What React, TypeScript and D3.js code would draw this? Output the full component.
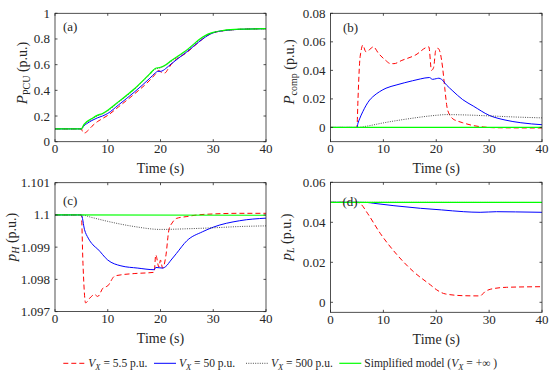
import React from 'react';
import * as d3 from 'd3';

type Pt = [number, number];

// shared time axis
const timeTicks = [0, 10, 20, 30, 40];

// (a) P_PCU
const aRed: Pt[] = [[0, 0.1], [5, 0.1], [5.2, 0.08], [5.6, 0.068], [6.2, 0.085], [7, 0.12], [8, 0.155], [9, 0.18], [10, 0.205], [12, 0.27], [15, 0.37], [18, 0.48], [19, 0.525], [19.6, 0.555], [20.2, 0.54], [20.8, 0.535], [21.5, 0.57], [22, 0.6], [25, 0.695], [28, 0.8], [29, 0.83], [30, 0.848], [32, 0.865], [35, 0.875], [40, 0.88]];
const aBlue: Pt[] = [[0, 0.1], [5, 0.1], [5.5, 0.125], [6, 0.14], [7, 0.165], [8, 0.185], [9, 0.2], [10, 0.22], [12, 0.285], [15, 0.385], [18, 0.495], [19, 0.535], [19.5, 0.548], [20, 0.548], [20.5, 0.555], [21, 0.57], [22, 0.605], [25, 0.7], [28, 0.8], [29, 0.828], [30, 0.848], [32, 0.865], [35, 0.875], [40, 0.88]];
const aBlack: Pt[] = [[0, 0.1], [5, 0.1], [5.5, 0.13], [7, 0.175], [8, 0.2], [9, 0.215], [10, 0.24], [12, 0.305], [15, 0.405], [18, 0.525], [19, 0.565], [20, 0.575], [21, 0.595], [22, 0.625], [25, 0.71], [28, 0.81], [29, 0.835], [30, 0.85], [32, 0.865], [35, 0.875], [40, 0.88]];
const aGreen: Pt[] = [[0, 0.1], [5, 0.1], [5.5, 0.135], [7, 0.18], [8, 0.205], [9, 0.22], [10, 0.245], [12, 0.31], [15, 0.41], [18, 0.53], [19, 0.57], [20, 0.58], [21, 0.6], [22, 0.63], [25, 0.715], [28, 0.815], [29, 0.838], [30, 0.852], [32, 0.867], [35, 0.876], [40, 0.88]];
const aYTicks = [0, 0.2, 0.4, 0.6, 0.8, 1];
const aYLabels = ['0', '0.2', '0.4', '0.6', '0.8', '1'];

// (b) P_comp
const bRed: Pt[] = [[0, 0], [5, 0], [5.2, 0.02], [5.5, 0.045], [5.8, 0.054], [6.1, 0.0577], [6.7, 0.053], [7.4, 0.0546], [8.1, 0.0565], [9.1, 0.0518], [10.4, 0.0471], [11.3, 0.0448], [12, 0.0447], [13.5, 0.047], [16, 0.0506], [18.6, 0.0565], [19.1, 0.04], [19.5, 0.042], [19.9, 0.054], [20.3, 0.0555], [20.7, 0.053], [21.2, 0.042], [21.6, 0.028], [22, 0.015], [22.5, 0.009], [23, 0.0065], [24, 0.0045], [25, 0.0033], [27, 0.0013], [29, 0.0003], [31, -0.0002], [40, -0.0004]];
const bBlue: Pt[] = [[0, 0], [5, 0], [5.2, 0.003], [5.5, 0.006], [6.1, 0.011], [7.4, 0.0192], [8, 0.0215], [9.3, 0.0251], [10.5, 0.0275], [12.4, 0.0297], [15.5, 0.0327], [17, 0.034], [18.7, 0.035], [19.3, 0.0337], [20, 0.0342], [20.5, 0.0345], [21, 0.0337], [22, 0.0295], [23, 0.026], [25, 0.0195], [27, 0.015], [30, 0.0085], [33, 0.0052], [36, 0.0033], [40, 0.0019]];
const bBlack: Pt[] = [[0, 0], [5, 0], [7, 0.001], [10, 0.0032], [15, 0.0062], [20, 0.0085], [22, 0.009], [25, 0.0088], [30, 0.0081], [35, 0.0073], [40, 0.0067]];
const bGreen: Pt[] = [[0, 0], [40, 0]];
const bYTicks = [0, 0.02, 0.04, 0.06, 0.08];
const bYLabels = ['0', '0.02', '0.04', '0.06', '0.08'];

// (c) p_H
const cRed: Pt[] = [[0, 1.1], [5, 1.1], [5.3, 1.0985], [5.8, 1.09727], [6.6, 1.09742], [7.5, 1.09753], [8.1, 1.09747], [9.1, 1.09773], [10, 1.0978], [11.3, 1.0981], [12.5, 1.09814], [15, 1.09818], [18.8, 1.09822], [19.1, 1.09876], [19.7, 1.09838], [20, 1.0986], [20.4, 1.09835], [21, 1.09871], [21.6, 1.09954], [22.2, 1.09975], [23, 1.09989], [25, 1.09995], [27, 1.1], [30, 1.10003], [35, 1.10005], [40, 1.10005]];
const cBlue: Pt[] = [[0, 1.1], [5, 1.1], [5.6, 1.09954], [6.3, 1.09928], [7.2, 1.09907], [8.1, 1.09894], [10, 1.0986], [12.5, 1.09842], [15.7, 1.09835], [18.8, 1.0983], [19.1, 1.09837], [20.4, 1.09835], [21, 1.0984], [22, 1.0986], [23, 1.0988], [25, 1.0992], [28, 1.09948], [30, 1.09962], [35, 1.09982], [40, 1.0999]];
const cBlack: Pt[] = [[0, 1.1], [5, 1.1], [7, 1.09992], [10, 1.0998], [15, 1.09964], [20, 1.09955], [25, 1.09957], [30, 1.0996], [35, 1.09964], [40, 1.09966]];
const cGreen: Pt[] = [[0, 1.1], [40, 1.09999]];
const cYTicks = [1.097, 1.098, 1.099, 1.1, 1.101];
const cYLabels = ['1.097', '1.098', '1.099', '1.1', '1.101'];

// (d) p_L
const dRed: Pt[] = [[0, 0.05], [5, 0.05], [5.7, 0.0492], [7, 0.0445], [9.4, 0.0345], [12.6, 0.0237], [15.7, 0.0153], [18.9, 0.0087], [20.1, 0.0062], [21.7, 0.0042], [25.2, 0.0033], [28.3, 0.0032], [29.2, 0.0053], [30.2, 0.0065], [33.3, 0.0075], [40, 0.0078]];
const dBlue: Pt[] = [[0, 0.05], [5, 0.05], [7, 0.0499], [8.2, 0.0495], [12, 0.0483], [17, 0.047], [21, 0.0462], [25.2, 0.0453], [28.3, 0.045], [31.4, 0.0453], [35, 0.0452], [40, 0.045]];
const dBlack: Pt[] = [[0, 0.05], [40, 0.0499]];
const dGreen: Pt[] = [[0, 0.05], [40, 0.05]];
const dYTicks = [0, 0.02, 0.04, 0.06];
const dYLabels = ['0', '0.02', '0.04', '0.06'];

const legendValues = ['5.5', '50', '500'];

const styles = [
  { color: '#ff0000', dash: '5,3', width: 1 },
  { color: '#0000ff', dash: undefined, width: 1 },
  { color: '#222222', dash: '1,1.3', width: 0.8 },
  { color: '#00ff00', dash: undefined, width: 1.2 },
];

const FONT = 'Liberation Serif, DejaVu Serif, serif';
const AX = '#262626';
const TXT = '#262626';

type Panel = {
  id: string;
  left: number; right: number; top: number; bottom: number;
  yDomain: [number, number];
  yTicks: number[]; yLabels: string[];
  series: Pt[][];
  tag: string; tagX: number; tagY: number;
  labelX: number; labelY: number;
  ylab: { main: string; sub: string; subItalic: boolean };
};

const panels: Panel[] = [
  { id: 'a', left: 55, right: 266, top: 13.3, bottom: 141.7, yDomain: [0, 1], yTicks: aYTicks, yLabels: aYLabels,
    series: [aRed, aBlue, aBlack, aGreen], tag: '(a)', tagX: 63, tagY: 30.5, labelX: 27, labelY: 73,
    ylab: { main: 'P', sub: 'PCU', subItalic: false } },
  { id: 'b', left: 330.5, right: 542, top: 13.3, bottom: 141.7, yDomain: [-0.01, 0.08], yTicks: bYTicks, yLabels: bYLabels,
    series: [bRed, bBlue, bBlack, bGreen], tag: '(b)', tagX: 343, tagY: 31.5, labelX: 294, labelY: 72,
    ylab: { main: 'P', sub: 'comp', subItalic: false } },
  { id: 'c', left: 55, right: 266, top: 182.7, bottom: 311.6, yDomain: [1.097, 1.101], yTicks: cYTicks, yLabels: cYLabels,
    series: [cRed, cBlue, cBlack, cGreen], tag: '(c)', tagX: 63, tagY: 204.5, labelX: 16, labelY: 237,
    ylab: { main: 'p', sub: 'H', subItalic: true } },
  { id: 'd', left: 330.5, right: 542, top: 182.3, bottom: 312.3, yDomain: [-0.005, 0.06], yTicks: dYTicks, yLabels: dYLabels,
    series: [dRed, dBlue, dBlack, dGreen], tag: '(d)', tagX: 342.5, tagY: 205.5, labelX: 291, labelY: 237,
    ylab: { main: 'p', sub: 'L', subItalic: true } },
];

const PanelView: React.FC<{ p: Panel }> = ({ p }) => {
  const x = d3.scaleLinear().domain([0, 40]).range([p.left, p.right]);
  const y = d3.scaleLinear().domain(p.yDomain).range([p.bottom, p.top]);
  const line = d3.line<Pt>().x(d => x(d[0])).y(d => y(d[1])).curve(d3.curveMonotoneX);
  const tl = 2.5;
  return (
    <g>
      <defs>
        <clipPath id={`clip-${p.id}`}>
          <rect x={p.left} y={p.top} width={p.right - p.left} height={p.bottom - p.top} />
        </clipPath>
      </defs>
      <rect x={p.left} y={p.top} width={p.right - p.left} height={p.bottom - p.top} fill="#fff" />
      <g clipPath={`url(#clip-${p.id})`}>
        {p.series.map((s, i) => (
          <path key={i} d={line(s) || ''} fill="none" stroke={styles[i].color}
            strokeWidth={styles[i].width} strokeDasharray={styles[i].dash} />
        ))}
      </g>
      {/* box + inward ticks */}
      <rect x={p.left} y={p.top} width={p.right - p.left} height={p.bottom - p.top} fill="none" stroke={AX} strokeWidth={0.8} />
      {timeTicks.map(t => (
        <g key={t}>
          <line x1={x(t)} x2={x(t)} y1={p.bottom} y2={p.bottom - tl} stroke={AX} strokeWidth={0.8} />
          <line x1={x(t)} x2={x(t)} y1={p.top} y2={p.top + tl} stroke={AX} strokeWidth={0.8} />
          <text x={x(t)} y={p.bottom + 11.5} textAnchor="middle" fontFamily={FONT} fontSize={13} fill={TXT}>{t}</text>
        </g>
      ))}
      {p.yTicks.map((t, i) => (
        <g key={i}>
          <line x1={p.left} x2={p.left + tl} y1={y(t)} y2={y(t)} stroke={AX} strokeWidth={0.8} />
          <line x1={p.right} x2={p.right - tl} y1={y(t)} y2={y(t)} stroke={AX} strokeWidth={0.8} />
          <text x={p.left - 5} y={y(t) + 4.5} textAnchor="end" fontFamily={FONT} fontSize={13} fill={TXT}>{p.yLabels[i]}</text>
        </g>
      ))}
      <text x={(p.left + p.right) / 2} y={p.bottom + 31.5} textAnchor="middle" fontFamily={FONT} fontSize={14} fill={TXT}>Time (s)</text>
      <text transform={`translate(${p.labelX},${p.labelY}) rotate(-90)`} textAnchor="middle" fontFamily={FONT} fontSize={14} fill={TXT}>
        <tspan fontStyle="italic" fontSize={15}>{p.ylab.main}</tspan>
        <tspan fontSize={10} dy={3} fontStyle={p.ylab.subItalic ? 'italic' : 'normal'}>{p.ylab.sub}</tspan>
        <tspan dy={-3}>{' (p.u.)'}</tspan>
      </text>
      <text x={p.tagX} y={p.tagY} fontFamily={FONT} fontSize={13} fill={TXT}>{p.tag}</text>
    </g>
  );
};

const legendX = [63.3, 154, 246, 339.3];

const App: React.FC = () => {
  const ly = 363.3;
  return (
    <svg width={550} height={372} style={{ position: 'absolute', left: 0, top: 0 }}>
      <rect width={550} height={372} fill="#fff" />
      {panels.map(p => <PanelView key={p.id} p={p} />)}
      {styles.map((s, i) => (
        <g key={i}>
          <line x1={legendX[i]} x2={legendX[i] + 22} y1={ly} y2={ly} stroke={s.color}
            strokeWidth={s.width} strokeDasharray={s.dash} />
          <text x={legendX[i] + 25} y={ly + 4} fontFamily={FONT} fontSize={11.5} fill={TXT}>
            {i < 3 ? (
              <>
                <tspan fontStyle="italic">V</tspan>
                <tspan fontStyle="italic" fontSize={8.5} dy={2.5}>X</tspan>
                <tspan dy={-2.5}>{` = ${legendValues[i]} p.u.`}</tspan>
              </>
            ) : (
              <>
                <tspan>Simplified model (</tspan>
                <tspan fontStyle="italic">V</tspan>
                <tspan fontStyle="italic" fontSize={8.5} dy={2.5}>X</tspan>
                <tspan dy={-2.5}>{' = +∞ )'}</tspan>
              </>
            )}
          </text>
        </g>
      ))}
    </svg>
  );
};

export default App;
